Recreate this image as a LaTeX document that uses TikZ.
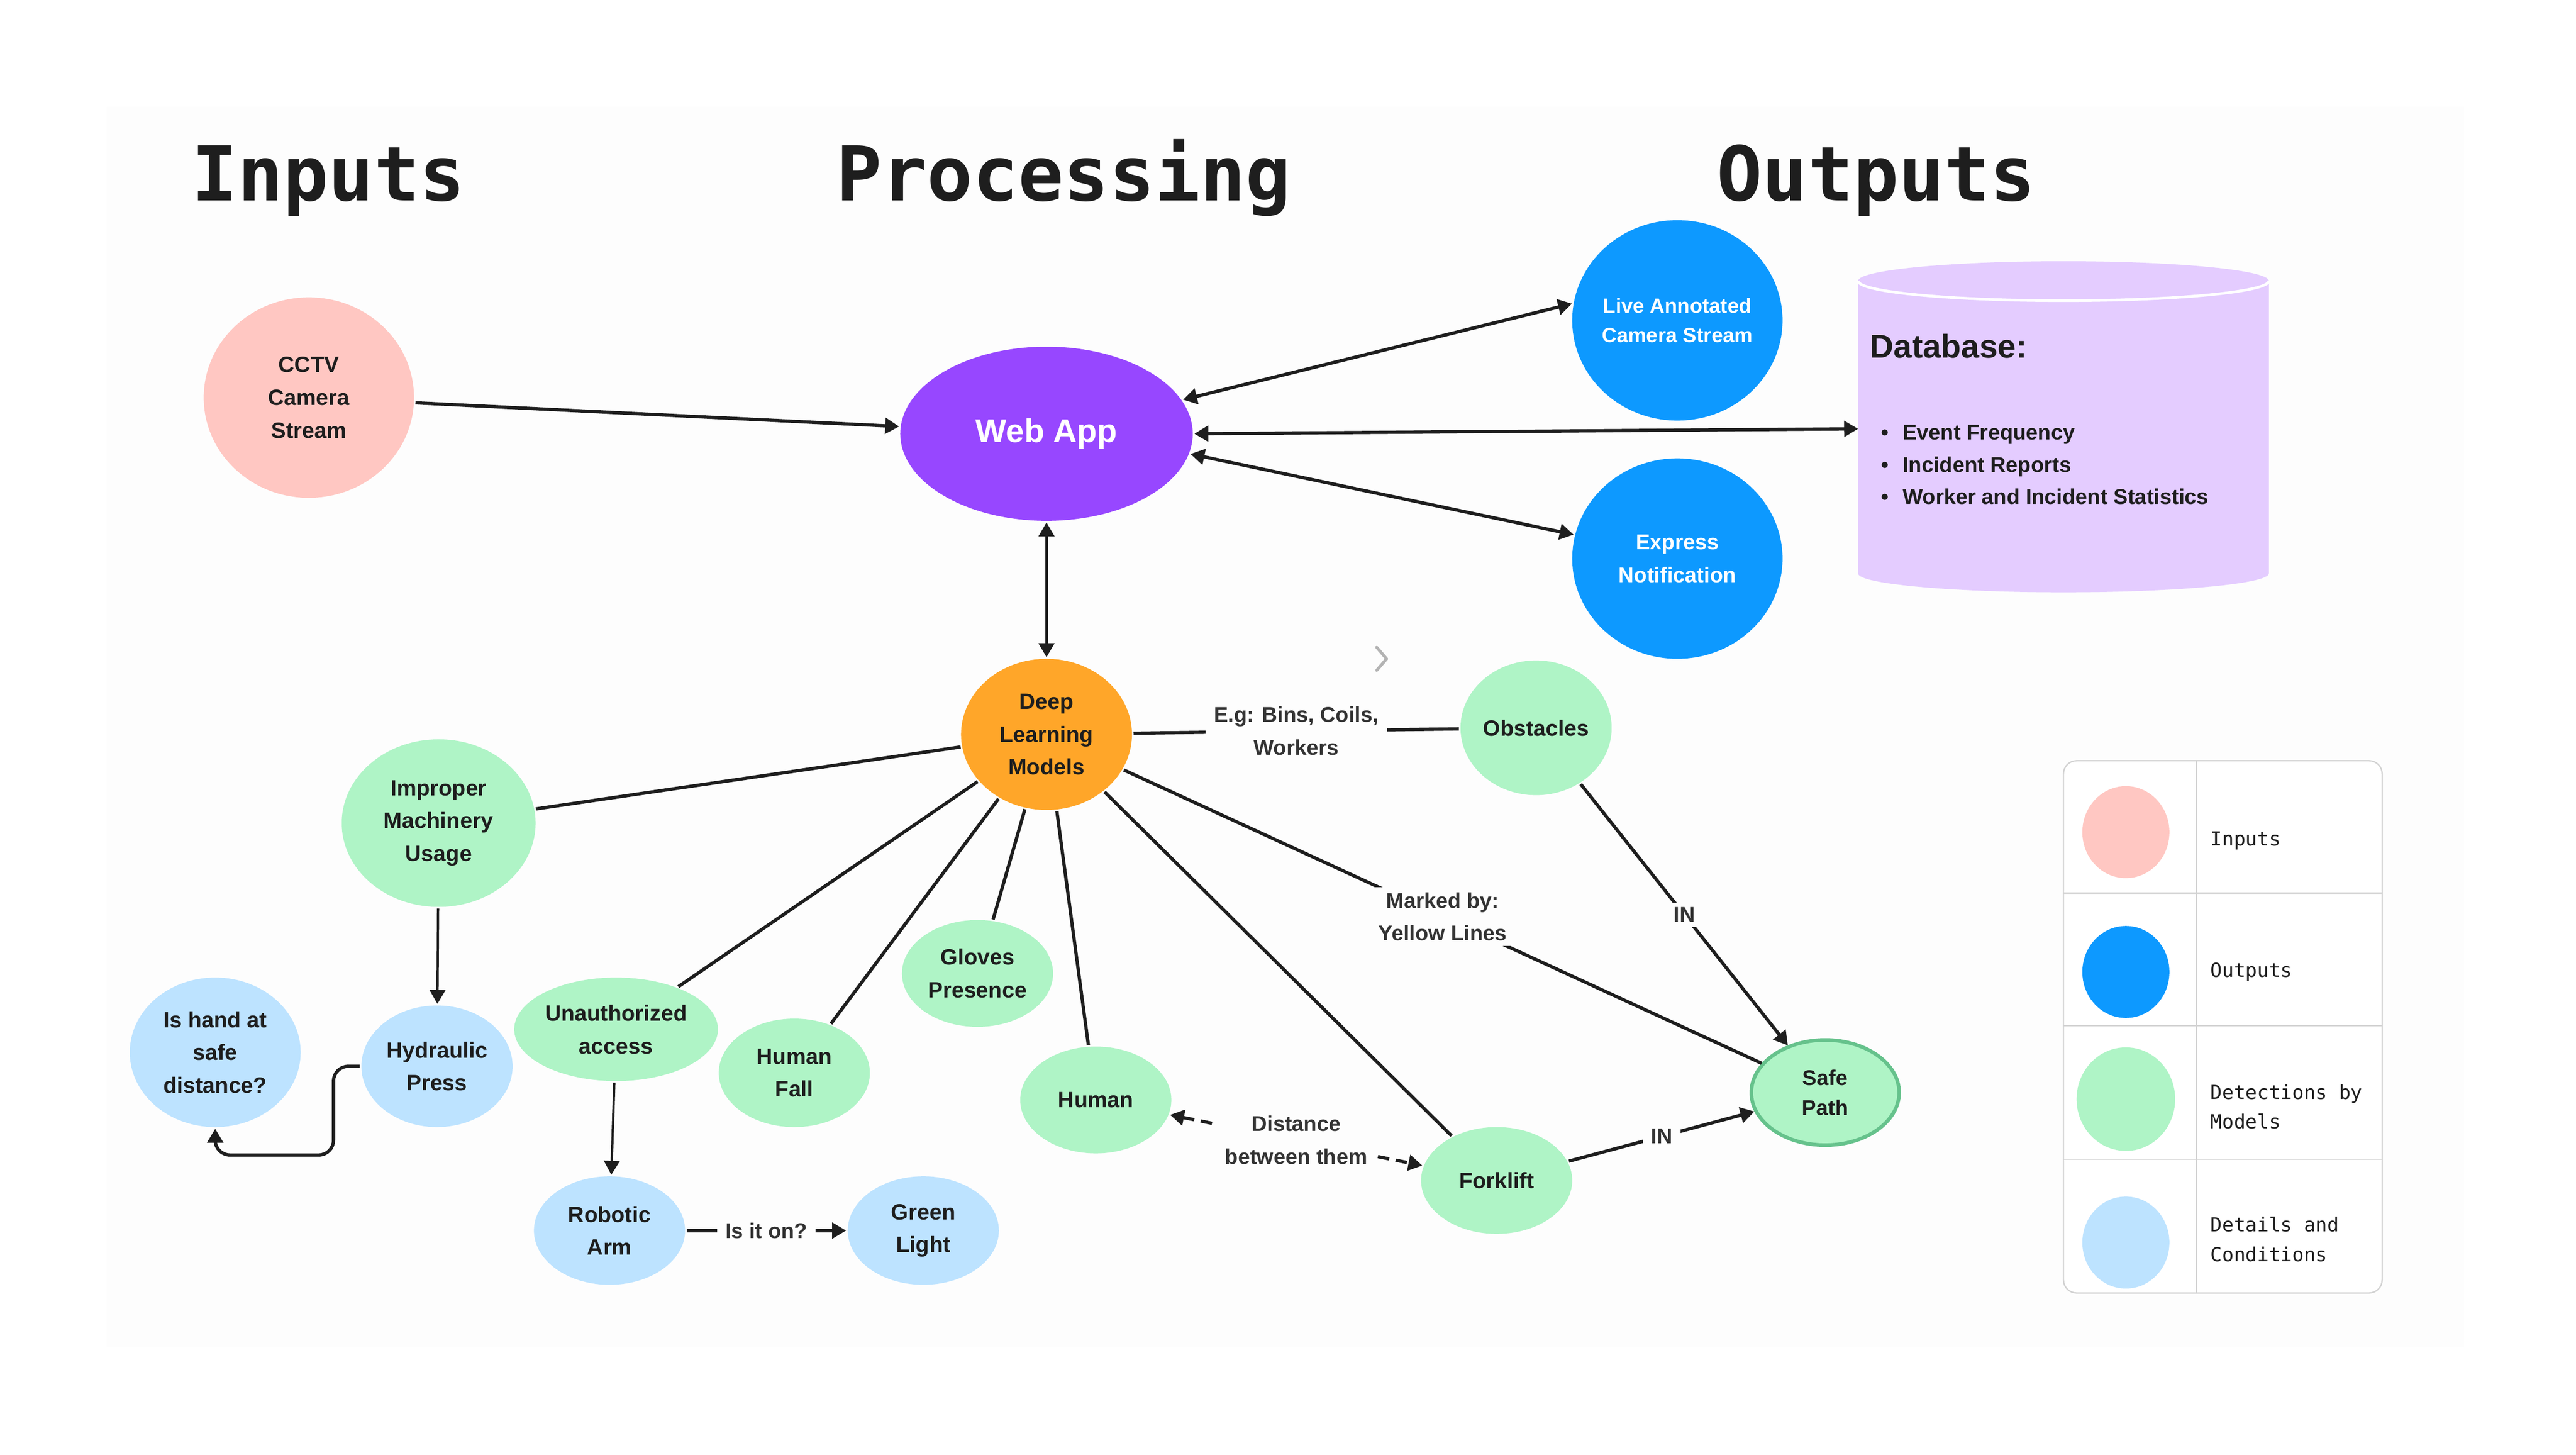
\documentclass[tikz,border=0pt]{standalone}
\usepackage{fontspec}
\setmainfont{Liberation Sans}
\newfontfamily\monofont{DejaVu Sans Mono}
\usetikzlibrary{shapes.geometric,arrows.meta}
\definecolor{pinkc}{HTML}{FFC7C2}
\definecolor{purplec}{HTML}{9747FF}
\definecolor{bluec}{HTML}{0D99FF}
\definecolor{lavc}{HTML}{E4CCFF}
\definecolor{orangec}{HTML}{FFA629}
\definecolor{greenc}{HTML}{AFF4C6}
\definecolor{lbluec}{HTML}{BDE3FF}
\definecolor{safec}{HTML}{66C28C}
\definecolor{txtc}{HTML}{1E1E1E}
\definecolor{lblc}{HTML}{333333}
\definecolor{bgc}{HTML}{FDFDFD}
\definecolor{legline}{HTML}{D2D2D2}
\definecolor{chevc}{HTML}{B3B3B3}
\tikzset{
  nd/.style={ellipse, inner sep=-8bp, outer sep=1bp, align=center, text=txtc,
    font=\fontsize{13.5bp}{20bp}\selectfont\bfseries},
  sz/.style 2 args={minimum width=#1bp, minimum height=#2bp},
  ln/.style={draw=txtc, line width=2bp},
  thinln/.style={draw=txtc, line width=1.4bp},
  lbl/.style={fill=bgc, inner xsep=5bp, inner ysep=3bp, align=center, text=lblc,
    font=\fontsize{13bp}{20bp}\selectfont\bfseries},
  ttl/.style={anchor=base, inner sep=0, text=txtc, font=\monofont\bfseries\fontsize{46bp}{50bp}\selectfont},
  legtxt/.style={anchor=base west, inner sep=0, align=left, text=txtc,
    font=\monofont\fontsize{11.8bp}{18bp}\selectfont},
  dbtxt/.style={anchor=base west, inner sep=0, text=txtc,
    font=\fontsize{13bp}{18bp}\selectfont\bfseries},
  leg/.style={ellipse, inner sep=0},
}
\begin{document}
\begin{tikzpicture}[x=1bp, y=-1bp, >={Triangle[length=8.5bp,width=9.5bp]}]
\useasboundingbox (0,0) rectangle (1568,885.4);
\fill[white] (0,0) rectangle (1568,885.4);
\fill[bgc] (65,65) rectangle (1500,820);

% titles
\node[ttl] (tin) at (200,122.3) {Inputs};
\node[ttl] (tpro) at (647.5,122.3) {Processing};
\node[ttl] (tout) at (1142,122.3) {Outputs};

% database cylinder
\fill[lavc] (1131,171) -- (1131,349) arc[start angle=180, end angle=360, x radius=125bp, y radius=11.5bp]
  -- (1381,171) arc[start angle=0, end angle=180, x radius=125bp, y radius=12bp] -- cycle;
\draw[white, line width=1.6bp] (1131,171) arc[start angle=180, end angle=360, x radius=125bp, y radius=12bp];
\coordinate (dbL) at (1131,261);
\node[anchor=base west, inner sep=0, text=txtc, font=\fontsize{20bp}{24bp}\selectfont\bfseries] (dbt) at (1138,217.9) {Database:};
\node[dbtxt] (db1) at (1145,267.7) {\makebox[13bp][l]{\textbullet}Event Frequency};
\node[dbtxt] (db2) at (1145,287.4) {\makebox[13bp][l]{\textbullet}Incident Reports};
\node[dbtxt] (db3) at (1145,307) {\makebox[13bp][l]{\textbullet}Worker and Incident Statistics};

% nodes
\node[nd, sz={128}{122}, fill=pinkc] (cctv) at (188,242) {CCTV\\Camera\\Stream};
\node[nd, sz={178}{106}, fill=purplec, text=white, font=\fontsize{20bp}{24bp}\selectfont\bfseries] (web) at (637,264) {Web App};
\node[nd, sz={128}{122}, fill=bluec, text=white, font=\fontsize{12.5bp}{18bp}\selectfont\bfseries] (live) at (1021,195) {Live Annotated\\Camera Stream};
\node[nd, sz={128}{122}, fill=bluec, text=white, font=\fontsize{13bp}{20bp}\selectfont\bfseries] (expr) at (1021,340) {Express\\Notification};
\node[nd, sz={104}{92}, fill=orangec] (dlm) at (637,447) {Deep\\Learning\\Models};
\node[nd, sz={92}{82}, fill=greenc] (obs) at (935,443) {Obstacles};
\node[nd, sz={118}{102}, fill=greenc] (imp) at (267,501) {Improper\\Machinery\\Usage};
\node[nd, sz={92}{74}, fill=lbluec] (hyd) at (266,649) {Hydraulic\\Press};
\node[nd, sz={104}{91}, fill=lbluec] (ish) at (131,640.5) {Is hand at\\safe\\distance?};
\node[nd, sz={124}{63}, fill=greenc] (una) at (375,626.5) {Unauthorized\\access};
\node[nd, sz={92}{66}, fill=greenc] (hfall) at (483.5,653) {Human\\Fall};
\node[nd, sz={92}{65}, fill=greenc] (glv) at (595,592.5) {Gloves\\Presence};
\node[nd, sz={92}{65}, fill=greenc] (hum) at (667,669.5) {Human};
\node[nd, sz={92}{66}, fill=lbluec] (rob) at (371,749) {Robotic\\Arm};
\node[nd, sz={92}{66}, fill=lbluec] (grn) at (562,749) {Green\\Light};
\node[nd, sz={92}{65}, fill=greenc] (fork) at (911,718.5) {Forklift};
\node[nd, sz={90}{64}, fill=greenc, draw=safec, line width=2.2bp, font=\fontsize{13bp}{18bp}\selectfont\bfseries] (safe) at (1111,665) {Safe\\Path};

% connectors
\draw[ln,->] (cctv) -- (web);
\draw[ln,<->] (web.14) -- (live.171);
\draw[ln,<->] (web.east) -- (dbL);
\draw[ln,<->] (web.-8) -- (expr.167);
\draw[thinln,<->] (web) -- (dlm);
\draw[ln] (dlm) -- node[lbl] (l1) {E.g: Bins, Coils,\\Workers} (obs);
\draw[ln] (dlm) -- (imp);
\draw[ln] (dlm) -- (una);
\draw[ln] (dlm) -- (hfall);
\draw[ln] (dlm) -- (glv);
\draw[ln] (dlm) -- (hum);
\draw[ln] (dlm) -- (fork);
\draw[ln] (dlm) -- node[lbl] (l2) {Marked by:\\Yellow Lines} (safe);
\draw[ln,->] (obs) -- node[lbl] (l3) {IN} (safe);
\draw[ln,->] (fork) -- node[lbl] (l4) {IN} (safe);
\draw[ln,<->,dash pattern=on 7bp off 4bp] (hum) -- node[lbl] (l5) {Distance\\between them} (fork);
\draw[thinln,->] (imp) -- (hyd);
\draw[ln,->,rounded corners=9bp] (hyd.west) -| (203,703) -| (ish.south);
\draw[thinln,->] (una) -- (rob);
\draw[ln,->] (rob) -- node[lbl] (l6) {Is it on?} (grn);

% chevron
\draw[chevc, line width=1.8bp, line cap=round, line join=round] (838,394) -- (844,401) -- (838,408);

% legend
\draw[legline, line width=0.8bp, fill=white, rounded corners=8bp] (1256,463) rectangle (1450,787);
\draw[legline, line width=0.8bp] (1256,543.6) -- (1450,543.6);
\draw[legline, line width=0.8bp] (1256,624.4) -- (1450,624.4);
\draw[legline, line width=0.8bp] (1256,705.6) -- (1450,705.6);
\draw[legline, line width=0.8bp] (1337,463) -- (1337,787);
\node[leg, minimum width=53bp, minimum height=56bp, fill=pinkc] (lg1) at (1294,506.5) {};
\node[leg, minimum width=53bp, minimum height=56bp, fill=bluec] (lg2) at (1294,591.6) {};
\node[leg, minimum width=60bp, minimum height=63bp, fill=greenc] (lg3) at (1294,669) {};
\node[leg, minimum width=53bp, minimum height=56bp, fill=lbluec] (lg4) at (1294,756.3) {};
\node[legtxt] (lt1) at (1345.4,514.8) {Inputs};
\node[legtxt] (lt2) at (1345.4,594.7) {Outputs};
\node[legtxt] (lt3) at (1345.4,687) {Detections by\\Models};
\node[legtxt] (lt4) at (1345.4,767.8) {Details and\\Conditions};
\end{tikzpicture}
\end{document}
